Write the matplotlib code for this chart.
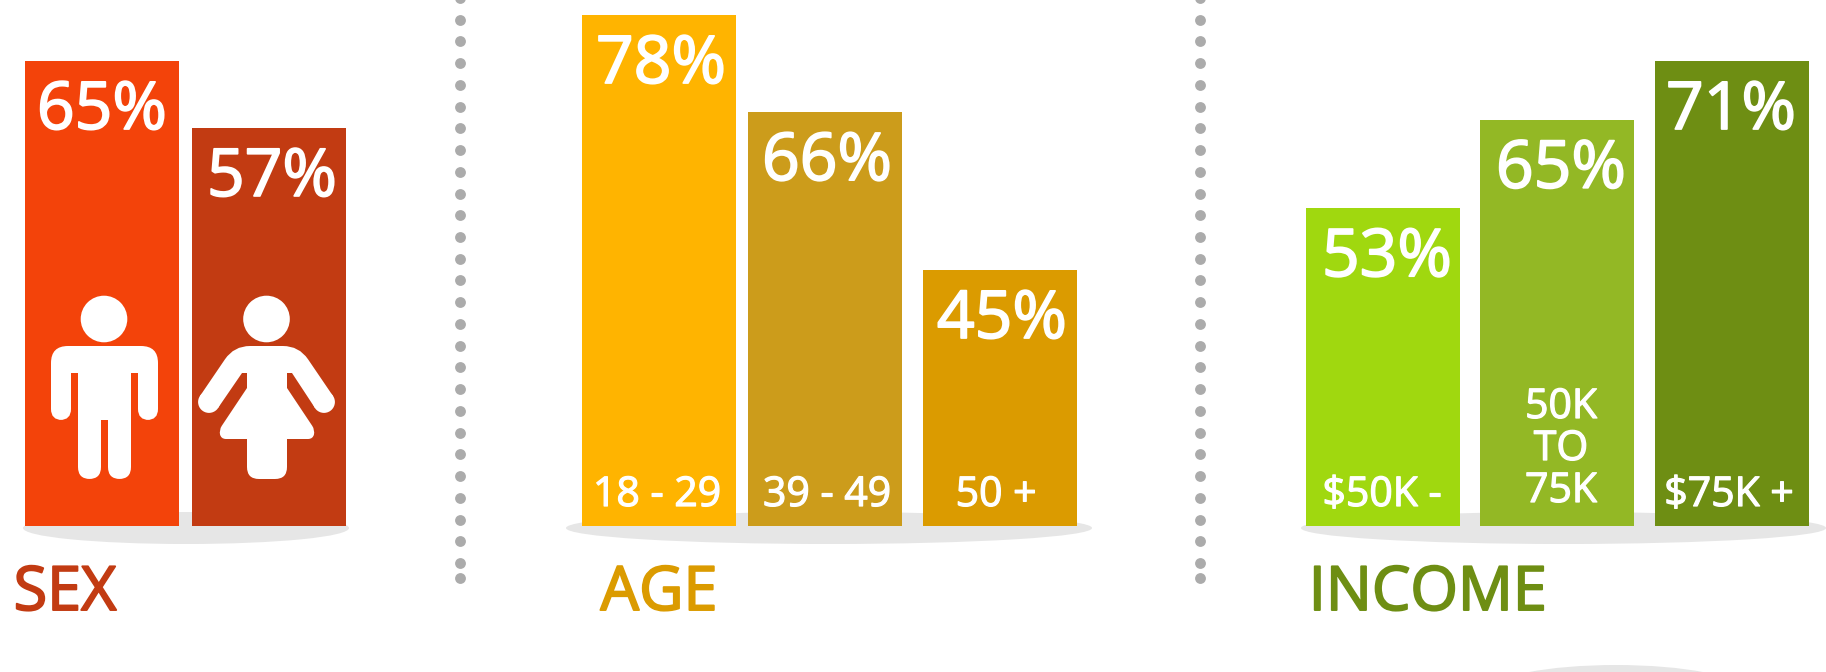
import numpy as np
import matplotlib
matplotlib.use("Agg")
import matplotlib.pyplot as plt
import matplotlib.patheffects as pe
from matplotlib.path import Path
from matplotlib.patches import PathPatch, Ellipse, Circle

# ---------- data ----------
sex_labels = ["65%", "57%"]
age_labels = ["78%", "66%", "45%"]
income_labels = ["53%", "65%", "71%"]
# Drawn bar heights (tallest bar = 100); the source's
# bars do not share a zero-based scale with their printed percentages.
sex_heights = [91.0, 77.9]
age_heights = [100.0, 81.0, 50.1]
income_heights = [62.2, 79.5, 91.0]
age_groups = ["18 - 29", "39 - 49", "50 +"]
income_groups = ["$50K -", "50K\nTO\n75K", "$75K +"]
panel_titles = ["SEX", "AGE", "INCOME"]

# ---------- layout and style ----------
W, H = 1826, 672
BASE_Y = 526
PX_PER_UNIT = 5.11
BAR_W = 154
FONT = "Open Sans"
sex_x = [102, 269]
age_x = [659, 825, 1000]
income_x = [1383, 1557, 1732]
sex_colors = ["#F3430A", "#C23B12"]
age_colors = ["#FFB400", "#CC9C1B", "#DB9B00"]
income_colors = ["#A0D80F", "#93B825", "#6E8E13"]
SHADOW = "#E6E6E6"
DOT = "#ABABAB"

def heavier(color, width):
    return [pe.withStroke(linewidth=width, foreground=color)]

fig = plt.figure(figsize=(W / 100, H / 100), dpi=100, facecolor="white")

# background layer in picture pixels
bg = fig.add_axes([0, 0, 1, 1], zorder=0)
bg.set_xlim(0, W); bg.set_ylim(H, 0); bg.axis("off")
for x0, x1 in [(23, 349), (566, 1092), (1301, 1826)]:
    bg.add_patch(Ellipse(((x0 + x1) / 2, 528), x1 - x0, 32, color=SHADOW, lw=0))
bg.add_patch(Ellipse((1616, 690), 250, 50, color=SHADOW, lw=0))
for x in (460, 1200):
    ys = np.r_[np.arange(-2, 570, 21.73), 578]
    bg.plot([x] * len(ys), ys, "o", color=DOT, ms=7.8, mew=0, clip_on=False)

# bars
ax = fig.add_axes([0, 0, 1, 1], zorder=1)
ax.set_xlim(0, W)
ax.set_ylim(-(H - BASE_Y) / PX_PER_UNIT, BASE_Y / PX_PER_UNIT)
ax.axis("off")
ax.patch.set_alpha(0)
pct_shift = [[0, 3], [2, 2, 2], [4, 4, -1]]
groups = [(sex_x, sex_heights, sex_colors, sex_labels),
          (age_x, age_heights, age_colors, age_labels),
          (income_x, income_heights, income_colors, income_labels)]
for (xs, hs, cs, ls), shifts in zip(groups, pct_shift):
    ax.bar(xs, hs, width=BAR_W, color=cs, linewidth=0)
    for x, h, l, s in zip(xs, hs, ls, shifts):
        ax.annotate(l, (x, h), xytext=(s * 0.72, -68 * 0.72), textcoords="offset points",
                    ha="center", va="baseline", color="white", family=FONT, fontsize=47.5,
                    path_effects=heavier("white", 1.3))

# text and icons in pixel coordinates
top = fig.add_axes([0, 0, 1, 1], zorder=2)
top.set_xlim(0, W); top.set_ylim(H, 0); top.axis("off"); top.patch.set_alpha(0)

def sublabel(x, y, s):
    top.text(x, y, s, ha="center", va="baseline", color="white", family=FONT, fontsize=29.5,
             path_effects=heavier("white", 0.9))

for x, s in zip([657, 827, 996], age_groups):
    sublabel(x, 506, s)
sublabel(1382, 506, income_groups[0])
for y, s in zip([418, 460, 502], income_groups[1].split("\n")):
    sublabel(1561, y, s)
sublabel(1729, 506, income_groups[2])

for x, s, c in zip([65, 659, 1428], panel_titles, [sex_colors[1], age_colors[2], income_colors[2]]):
    top.text(x, 610, s, ha="center", va="baseline", color=c, family=FONT, fontsize=44,
             path_effects=heavier(c, 1.4))

def rounded(points):
    verts, codes = [], []
    n = len(points)
    for i, (x, y, r) in enumerate(points):
        p = np.array([x, y], float)
        a = np.array(points[i - 1][:2], float)
        b = np.array(points[(i + 1) % n][:2], float)
        u = (a - p) / np.linalg.norm(a - p)
        v = (b - p) / np.linalg.norm(b - p)
        s, e = p + u * r, p + v * r
        verts.append(s); codes.append(Path.MOVETO if i == 0 else Path.LINETO)
        if r:
            verts += [p, e]; codes += [Path.CURVE3, Path.CURVE3]
    verts.append(verts[0]); codes.append(Path.CLOSEPOLY)
    return Path(verts, codes)

man = [(51, 346, 17), (158, 346, 17), (158, 420, 11), (138, 420, 11), (138, 373, 0),
       (131, 373, 0), (131, 479, 12), (108, 479, 12), (108, 420, 0), (101, 420, 0),
       (101, 479, 12), (78, 479, 12), (78, 373, 0), (71, 373, 0), (71, 420, 11), (51, 420, 11)]
woman = [(234, 346, 16), (299, 346, 16), (333, 396, 0), (315, 408, 0), (292, 373, 0),
         (287, 373, 0), (287, 388, 0), (315, 430, 5), (313, 439, 5), (287, 439, 0),
         (287, 479, 12), (247, 479, 12), (247, 439, 0), (221, 439, 5), (219, 430, 5),
         (247, 388, 0), (247, 373, 0), (242, 373, 0), (218, 408, 0), (200, 396, 0)]
for shape in (man, woman):
    top.add_patch(PathPatch(rounded(shape), fc="white", lw=0))
for c, r in [((104, 319), 23.3), ((266.5, 319), 23.3), ((324, 402), 10.9), ((209, 402), 10.9)]:
    top.add_patch(Circle(c, r, fc="white", lw=0))

fig.savefig("out.png", dpi=100, facecolor="white")
